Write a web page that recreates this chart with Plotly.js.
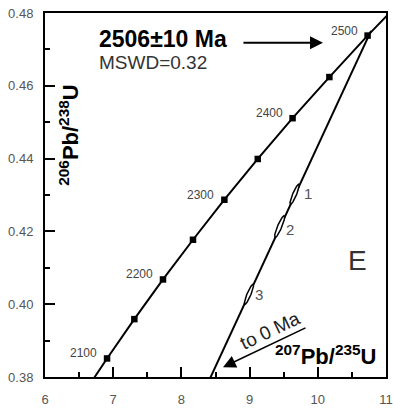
<!DOCTYPE html>
<html>
<head>
<meta charset="utf-8">
<script src="https://cdn.plot.ly/plotly-3.0.1.min.js"></script>
<style>html,body{margin:0;padding:0;background:#fff;}#chart{width:393px;height:408px;}</style>
</head>
<body>
<div id="chart"></div>
<script>
// Concordia curve points (age in Ma, 207Pb/235U, 206Pb/238U)
const concAges = [2050, 2100, 2150, 2200, 2250, 2300, 2350, 2400, 2450, 2500, 2550];
const concX = [6.53, 6.91, 7.31, 7.73, 8.17, 8.63, 9.12, 9.63, 10.17, 10.73, 11.32];
const concY = [0.3744, 0.3851, 0.3959, 0.4068, 0.4177, 0.4287, 0.4399, 0.4511, 0.4624, 0.4738, 0.4852];
// Marked ages on the concordia and labelled ages
const markAges = [2100, 2150, 2200, 2250, 2300, 2350, 2400, 2450, 2500];
const labelAges = [2100, 2200, 2300, 2400, 2500];
// Discordia line end points
const discX = [10.78, 8.37];
const discY = [0.4751, 0.3776];
// Analyses (error ellipses)
const spotLabels = ['1', '2', '3'];
const spotX = [9.66, 9.44, 8.99];
const spotY = [0.4302, 0.4213, 0.4027];
const spotSX = [0.067, 0.0735, 0.067];
const spotSY = [0.00275, 0.0030, 0.00275];
const spotRho = [0.89, 0.89, 0.89];
const spotLabelX = [9.86, 9.59, 9.14];
const spotLabelY = [0.4305, 0.4204, 0.4028];
// Axis ranges
const xRange = [6, 11];
const yRange = [0.38, 0.48];
// Texts
const ageText = '2506±10 Ma';
const mswdText = 'MSWD=0.32';
const panelText = 'E';

const FONT = 'Liberation Sans, Arial, sans-serif';
const traces = [];
traces.push({x: concX, y: concY, mode: 'lines', line: {color: 'black', width: 2}, hoverinfo: 'skip', showlegend: false});
traces.push({x: discX, y: discY, mode: 'lines', line: {color: 'black', width: 2}, hoverinfo: 'skip', showlegend: false});
for (let i = 0; i < spotX.length; i++) {
  const ex = [], ey = [];
  const r = spotRho[i], s = Math.sqrt(1 - r * r);
  for (let k = 0; k <= 72; k++) {
    const t = 2 * Math.PI * k / 72;
    ex.push(spotX[i] + spotSX[i] * Math.cos(t));
    ey.push(spotY[i] + spotSY[i] * (r * Math.cos(t) + s * Math.sin(t)));
  }
  traces.push({x: ex, y: ey, mode: 'lines', fill: 'toself', fillcolor: 'white', line: {color: 'black', width: 1.5}, hoverinfo: 'skip', showlegend: false});
}
const mx = [], my = [];
markAges.forEach(a => { const i = concAges.indexOf(a); mx.push(concX[i]); my.push(concY[i]); });
traces.push({x: mx, y: my, mode: 'markers', marker: {symbol: 'square', size: 6.5, color: 'black'}, hoverinfo: 'skip', showlegend: false});
// invisible trace on the label axes so they are drawn
traces.push({x: [xRange[0]], y: [yRange[0]], xaxis: 'x2', yaxis: 'y2', mode: 'markers', marker: {opacity: 0}, hoverinfo: 'skip', showlegend: false});

const ann = [];
labelAges.forEach(a => {
  const i = concAges.indexOf(a);
  ann.push({x: concX[i], y: concY[i], text: String(a), showarrow: false, xanchor: 'right', yanchor: 'middle', xshift: -8, yshift: 5, font: {family: FONT, size: 12, color: '#444'}});
});
spotLabels.forEach((l, i) => {
  ann.push({x: spotLabelX[i], y: spotLabelY[i], text: l, showarrow: false, xanchor: 'center', yanchor: 'middle', font: {family: FONT, size: 15, color: '#555'}});
});
ann.push({x: 6.762, y: 0.4729, text: '<b>' + ageText + '</b>', showarrow: false, xanchor: 'left', yanchor: 'middle', font: {family: FONT, size: 23, color: 'black'}});
ann.push({x: 6.762, y: 0.4665, text: mswdText, showarrow: false, xanchor: 'left', yanchor: 'middle', font: {family: FONT, size: 19, color: '#333'}});
ann.push({x: 10.076, y: 0.4718, ax: -81, ay: 0, text: '', showarrow: true, arrowhead: 2, arrowsize: 1.3, arrowwidth: 2, arrowcolor: 'black'});
ann.push({x: 8.61, y: 0.3827, ax: 84, ay: -40, text: '', showarrow: true, arrowhead: 2, arrowsize: 1.6, arrowwidth: 1.6, arrowcolor: 'black'});
ann.push({x: 9.30, y: 0.3929, text: 'to 0 Ma', textangle: -25.5, showarrow: false, xanchor: 'center', yanchor: 'middle', font: {family: FONT, size: 19, color: '#222'}});
ann.push({x: 10.575, y: 0.4121, text: panelText, showarrow: false, xanchor: 'center', yanchor: 'middle', font: {family: FONT, size: 28, color: '#333'}});
ann.push({x: 10.12, y: 0.386, text: '<b><sup>207</sup>Pb/<sup>235</sup>U</b>', showarrow: false, xanchor: 'center', yanchor: 'middle', font: {family: FONT, size: 22, color: 'black'}});
ann.push({x: 6.35, y: 0.4465, text: '<b><sup>206</sup>Pb/<sup>238</sup>U</b>', textangle: -90, showarrow: false, xanchor: 'center', yanchor: 'middle', font: {family: FONT, size: 22, color: 'black'}});

const tickStyle = {ticks: 'inside', ticklen: 10, tickwidth: 2, tickcolor: 'black',
  showline: true, linewidth: 2, linecolor: 'black', mirror: true, showgrid: false, zeroline: false, showticklabels: false};
const layout = {
  width: 393, height: 408,
  margin: {l: 45, r: 7, t: 13, b: 31, pad: 0},
  paper_bgcolor: 'white', plot_bgcolor: 'white',
  font: {family: FONT},
  showlegend: false,
  xaxis: Object.assign({range: xRange, dtick: 1, tick0: 6,
    minor: {dtick: 0.5, ticks: 'inside', ticklen: 5, tickwidth: 2, tickcolor: 'black', showgrid: false}}, tickStyle),
  yaxis: Object.assign({range: yRange, dtick: 0.02, tick0: 0.38,
    minor: {dtick: 0.01, ticks: 'inside', ticklen: 5, tickwidth: 2, tickcolor: 'black', showgrid: false}}, tickStyle),
  xaxis2: {range: xRange, dtick: 1, tick0: 6, overlaying: 'x', anchor: 'y2', side: 'bottom',
    ticks: 'outside', ticklen: 10, tickcolor: 'rgba(0,0,0,0)', showline: false, showgrid: false, zeroline: false,
    tickfont: {family: FONT, size: 13, color: '#555'}},
  yaxis2: {range: yRange, dtick: 0.02, tick0: 0.38, tickformat: '.2f', overlaying: 'y', anchor: 'x2', side: 'left',
    ticks: 'outside', ticklen: 8, tickcolor: 'rgba(0,0,0,0)', showline: false, showgrid: false, zeroline: false,
    tickfont: {family: FONT, size: 13, color: '#555'}},
  annotations: ann
};
Plotly.newPlot('chart', traces, layout, {staticPlot: true, displayModeBar: false});
</script>
</body>
</html>
